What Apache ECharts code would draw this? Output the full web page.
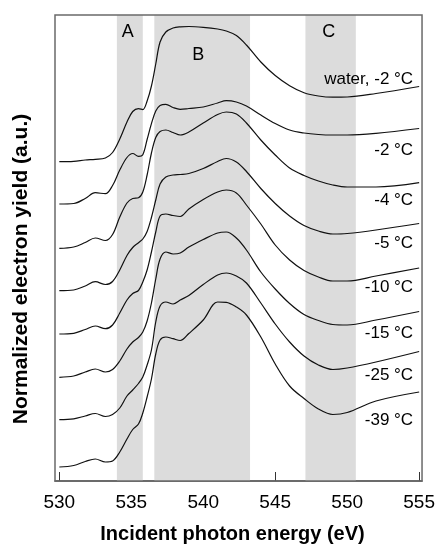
<!DOCTYPE html>
<html><head><meta charset="utf-8">
<script src="https://cdn.jsdelivr.net/npm/echarts@6/dist/echarts.min.js"></script>
<style>html,body{margin:0;padding:0;background:#fff}#c{width:438px;height:544px}</style>
</head><body><div id="c"></div>
<script>
// Incident photon energy (eV)
const energy = [530, 531, 531.8, 532.5, 533.2, 533.7, 534.2, 534.7, 535.1, 535.5, 535.8, 536.1, 536.4, 536.7, 537.0, 537.4, 537.9, 538.4, 539, 540, 541, 541.6, 542.3, 543, 544, 545, 546, 547, 548, 549, 550, 552, 555];
// Normalized electron yield (a.u., curves vertically offset)
const water  = [319.3, 319.7, 321, 321.7, 323, 328.5, 342, 359, 369.5, 372.4, 371.4, 380, 395, 417, 439, 449, 453, 454.2, 454.5, 453.7, 452, 450, 445.5, 436, 419, 405.5, 395.3, 388.3, 385, 383.8, 384, 387.5, 394.5];
const ice2   = [277, 277.5, 282.5, 288.3, 287.3, 295.5, 311, 323.5, 327.5, 324.7, 326.3, 341.5, 357.3, 370, 375.5, 376.7, 373.5, 371.7, 372.5, 374, 378, 380.3, 379, 375, 366, 357.5, 351, 348, 346.5, 346, 346, 347.7, 352.5];
const ice4   = [232.7, 234, 238.5, 243, 240.5, 246.5, 264, 278, 282.5, 283.2, 289, 306, 328, 343.5, 349.5, 351, 348.5, 346, 349, 358, 366.5, 369, 367, 358, 341, 326, 313, 305.5, 300, 296, 294, 294, 298.3];
const ice5   = [190.3, 191, 195, 199.3, 196.5, 199.5, 211, 225.5, 233.5, 238.3, 242, 249.5, 263.5, 281, 297, 304, 306, 306.5, 307.5, 312.5, 319.5, 322.5, 319, 309.5, 292.5, 277.5, 265, 255.5, 250, 247, 247.5, 251, 257.5];
const ice10  = [147, 147.7, 151.5, 155, 152.3, 156, 168, 181, 187.5, 190.5, 199, 211, 229, 249, 265, 267, 265.5, 264.5, 272, 281.5, 289, 291, 288, 276, 257, 236, 221, 210.5, 204, 200, 200, 205, 213];
const ice15  = [103.7, 105, 109, 112, 109, 111.5, 120, 132, 139, 143.5, 149, 160, 178, 202, 222, 229, 227, 228, 234, 241.5, 248, 249, 243, 231, 209, 192, 177.5, 166.5, 160.5, 156.5, 156, 161, 169.5];
const ice25  = [61.3, 62.2, 65, 67.5, 64.5, 66.5, 73, 85, 91, 97.5, 104, 116, 131, 159, 175, 179, 177, 181, 185.5, 196.5, 206, 208, 205, 198, 178, 157, 139, 125, 116, 111.5, 113, 119, 129.5];
const ice39  = [14, 15.5, 19.5, 22, 19, 20, 29, 42, 51.5, 57, 68, 84, 102, 127, 141, 144, 142.3, 140.5, 147.5, 161, 179, 178.7, 174, 166, 144, 117, 95, 82.5, 72, 66.5, 68.5, 80, 89];

const curveNames = ['water, -2 \u00B0C', '-2 \u00B0C', '-4 \u00B0C', '-5 \u00B0C', '-10 \u00B0C', '-15 \u00B0C', '-25 \u00B0C', '-39 \u00B0C'];
const curveValues = [water, ice2, ice4, ice5, ice10, ice15, ice25, ice39];

const tickValues = [530, 535, 540, 545, 550, 555];
const bandRanges = [[534.0, 535.8], [536.6, 543.25], [547.1, 550.6]];
const bandLabels = ['A', 'B', 'C'];

// layout (label vertical offsets in px relative to curve end)
const labelDy = [-7, 21.5, 18, 20, 19.5, 22, 23.5, 28];
const bandLabelDist = [8, 31, 8];
const bandLabelDx = [-2, -4, -2];

const FONT = 'Liberation Sans, Arial, Helvetica, sans-serif';
const chart = echarts.init(document.getElementById('c'), null, {renderer: 'canvas'});

const series = curveValues.map((vals, i) => ({
  name: curveNames[i],
  type: 'line',
  data: energy.map((e, k) => [e, vals[k]]),
  smooth: 0.35,
  showSymbol: false,
  symbol: 'none',
  z: 5,
  lineStyle: {color: '#111', width: 1.2},
  animation: false,
  markPoint: {
    symbol: 'circle', symbolSize: 0, silent: true, animation: false,
    data: [{coord: [energy[energy.length - 1], vals[vals.length - 1]]}],
    label: {
      show: true, position: 'left', distance: 6, offset: [0, labelDy[i]],
      formatter: curveNames[i], color: '#000', fontSize: 17, fontFamily: FONT
    }
  }
}));

series.unshift({
  type: 'line', data: [], z: 1, animation: false,
  markArea: {
    silent: true, animation: false,
    itemStyle: {color: '#dcdcdc', opacity: 1},
    data: bandRanges.map((r, i) => [
      {xAxis: r[0], name: bandLabels[i],
       label: {show: true, position: 'insideTop', distance: bandLabelDist[i], offset: [bandLabelDx[i], 0],
               formatter: '{b}', color: '#000', fontSize: 18, fontFamily: FONT}},
      {xAxis: r[1]}
    ])
  }
});

chart.setOption({
  animation: false,
  backgroundColor: '#fff',
  grid: {left: 55, top: 15, width: 369, height: 466, show: true, borderColor: '#6a6a6a', borderWidth: 1.5, backgroundColor: 'transparent', z: 10},
  xAxis: {
    type: 'value', min: 529.7, max: 555.2,
    axisLine: {show: true, lineStyle: {color: '#444', width: 1.5}},
    axisTick: {show: true, inside: true, length: 9, customValues: tickValues, lineStyle: {color: '#333', width: 1}},
    axisLabel: {show: true, customValues: tickValues, margin: 12, color: '#000', fontSize: 19, fontFamily: FONT},
    splitLine: {show: false}
  },
  yAxis: {
    type: 'value', min: 0, max: 466,
    axisLine: {show: false}, axisTick: {show: false}, axisLabel: {show: false}, splitLine: {show: false}
  },
  graphic: [
    {type: 'text', x: 232.5, y: 534, style: {text: 'Incident photon energy (eV)', textAlign: 'center', textVerticalAlign: 'middle', font: 'bold 20px ' + FONT, fill: '#000'}},
    {type: 'text', x: 21, y: 269, rotation: Math.PI / 2, style: {text: 'Normalized electron yield (a.u.)', textAlign: 'center', textVerticalAlign: 'middle', font: 'bold 21px ' + FONT, fill: '#000'}}
  ],
  series: series
});
</script>
</body></html>
